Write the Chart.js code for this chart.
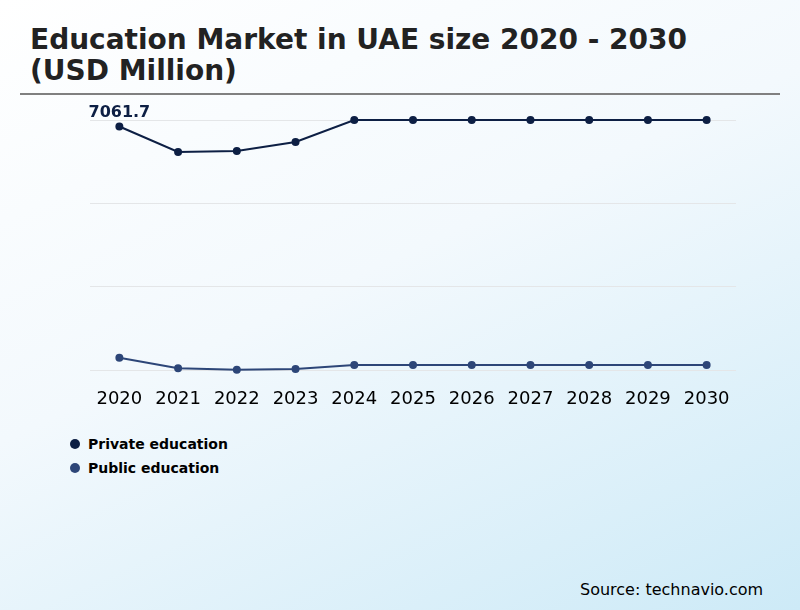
<!DOCTYPE html>
<html>
<head>
<meta charset="utf-8">
<script src="https://cdn.jsdelivr.net/npm/chart.js@4"></script>
<style>
  html, body { margin: 0; padding: 0; }
  body {
    width: 800px; height: 610px; position: relative; overflow: hidden;
    font-family: "DejaVu Sans", sans-serif;
    background: linear-gradient(155deg, #ffffff 0%, #f3f9fd 45%, #cdeaf7 100%);
  }
  #title {
    position: absolute; left: 30px; top: 24px;
    font-size: 28px; font-weight: bold; line-height: 31px; color: #222;
  }
  #rule {
    position: absolute; left: 20px; top: 93px; width: 760px; height: 2px; background: #808080;
  }
  #wrap { position: absolute; left: 0; top: 100px; width: 800px; height: 320px; }
  #legend { position: absolute; left: 70px; top: 432px; }
  .item { display: flex; align-items: center; height: 24px; font-size: 14px; font-weight: bold; color: #000; }
  .dot { width: 10px; height: 10px; border-radius: 50%; margin-right: 8px; }
  #source { position: absolute; left: 580px; top: 580px; font-size: 16px; color: #000; }
</style>
</head>
<body>
<div id="title">Education Market in UAE size 2020 - 2030<br>(USD Million)</div>
<div id="rule"></div>
<div id="wrap"><canvas id="chart"></canvas></div>
<div id="legend"></div>
<div id="source">Source: technavio.com</div>
<script>
// ========== DATA ==========
const years = ['2020', '2021', '2022', '2023', '2024', '2025', '2026', '2027', '2028', '2029', '2030'];
const seriesNames = ['Private education', 'Public education'];
const seriesColors = ['#0d1f44', '#2d4678'];
const privateValues = [7061.7, 6321, 6350, 6611, 7250, 7250, 7250, 7250, 7250, 7250, 7250];
const publicValues = [357, 49, 7, 29, 145, 145, 145, 145, 145, 145, 145];
const yMin = 0;
const yMax = 7250;

// label over the first private point
const firstLabel = {
  id: 'firstLabel',
  afterDraw(chart) {
    const pt = chart.getDatasetMeta(0).data[0];
    const ctx = chart.ctx;
    ctx.save();
    ctx.font = 'bold 16px "DejaVu Sans"';
    ctx.fillStyle = seriesColors[0];
    ctx.textAlign = 'center';
    ctx.textBaseline = 'middle';
    ctx.fillText(privateValues[0].toFixed(1), pt.x, pt.y - 14);
    ctx.restore();
  }
};

const datasets = [privateValues, publicValues].map((vals, i) => ({
  label: seriesNames[i],
  data: vals,
  borderColor: seriesColors[i],
  backgroundColor: seriesColors[i],
  borderWidth: 2,
  pointRadius: 3,
  pointHoverRadius: 3,
  tension: 0,
  clip: false
}));

new Chart(document.getElementById('chart'), {
  type: 'line',
  data: { labels: years, datasets: datasets },
  options: {
    responsive: true,
    maintainAspectRatio: false,
    animation: false,
    layout: { padding: { left: 90, right: 64, top: 20, bottom: 0 } },
    plugins: {
      legend: { display: false },
      tooltip: { enabled: false }
    },
    scales: {
      x: {
        offset: true,
        grid: { display: false },
        border: { display: false },
        ticks: { color: '#000', padding: 11, font: { family: 'DejaVu Sans', size: 18 } },
        afterFit(scale) { scale.height = 50; }
      },
      y: {
        min: yMin,
        max: yMax,
        ticks: { display: false, stepSize: (yMax - yMin) / 3 },
        grid: { color: '#e4e6e8', drawTicks: false },
        border: { display: false }
      }
    }
  },
  plugins: [firstLabel]
});

// legend built from the series arrays
const legend = document.getElementById('legend');
seriesNames.forEach((name, i) => {
  const row = document.createElement('div');
  row.className = 'item';
  row.innerHTML = '<span class="dot" style="background:' + seriesColors[i] + '"></span>' + name;
  legend.appendChild(row);
});
</script>
</body>
</html>
